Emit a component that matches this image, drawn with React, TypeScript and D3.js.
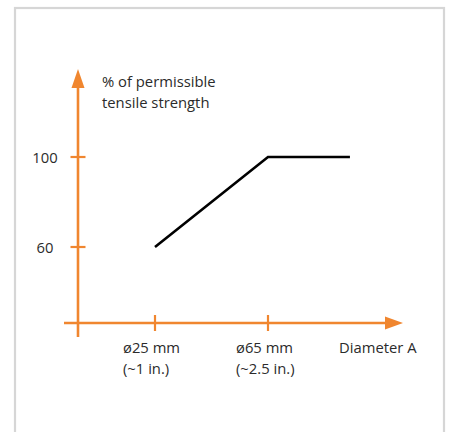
import React from "react";
import * as d3 from "d3";

const yTicks = [60, 100];
const xTickValues = [25, 65];
const xTickLabels = [
  ["ø25 mm", "(~1 in.)"],
  ["ø65 mm", "(~2.5 in.)"],
];
const lineX = [25, 65, 94];
const lineY = [60, 100, 100];
const yTitle = ["% of permissible", "tensile strength"];
const xTitle = "Diameter A";

const W = 453;
const H = 432;
const ORANGE = "#F0862F";
const TEXT = "#2b2b2b";
const FONT = "'Open Sans', 'Noto Sans', sans-serif";
const FS = 14.8;

export default function App() {
  const x = d3.scaleLinear().domain([25, 65]).range([155, 268]);
  const y = d3.scaleLinear().domain([60, 100]).range([247, 157]);
  const x0 = x.invert(78);
  const y0 = y.invert(323);
  const X0 = x(x0);
  const Y0 = y(y0);
  const xEnd = 403;
  const yTop = 69;
  const pts: [number, number][] = lineX.map((v, i) => [v, lineY[i]]);
  const line = d3
    .line<[number, number]>()
    .x((d) => x(d[0]))
    .y((d) => y(d[1]));

  return (
    <div style={{ position: "fixed", left: 0, top: 0 }}>
      <svg width={W} height={H} style={{ display: "block", fontFamily: FONT }}>
        <rect x={0} y={0} width={W} height={H} fill="#fff" />
        <rect x={15} y={8} width={429} height={440} fill="none" stroke="#d6d6d6" strokeWidth={2.2} />
        {/* y axis */}
        <line x1={X0} x2={X0} y1={337} y2={yTop + 15} stroke={ORANGE} strokeWidth={2.6} />
        <path d={`M${X0},${yTop} L${X0 + 6.5},${yTop + 19} L${X0 - 6.5},${yTop + 19} Z`} fill={ORANGE} />
        {/* x axis */}
        <line x1={64} x2={xEnd - 15} y1={Y0} y2={Y0} stroke={ORANGE} strokeWidth={2.6} />
        <path d={`M${xEnd},${Y0} L${xEnd - 18},${Y0 - 6.5} L${xEnd - 18},${Y0 + 6.5} Z`} fill={ORANGE} />
        {yTicks.map((t) => (
          <g key={t}>
            <line x1={X0 - 7.5} x2={X0 + 7.5} y1={y(t)} y2={y(t)} stroke={ORANGE} strokeWidth={2.2} />
            <text x={45} y={y(t) + 5.5} textAnchor="middle" fontSize={FS} fill={TEXT}>
              {t}
            </text>
          </g>
        ))}
        {xTickValues.map((t, i) => (
          <g key={t}>
            <line x1={x(t)} x2={x(t)} y1={Y0 - 8} y2={Y0 + 8} stroke={ORANGE} strokeWidth={2.2} />
            {xTickLabels[i].map((s, j) => (
              <text key={j} x={x(t) - 32} y={353 + j * 21} fontSize={FS} fill={TEXT}>
                {s}
              </text>
            ))}
          </g>
        ))}
        <text x={339} y={353} fontSize={FS} fill={TEXT}>
          {xTitle}
        </text>
        {yTitle.map((s, j) => (
          <text key={j} x={102} y={87 + j * 21} fontSize={FS} fill={TEXT}>
            {s}
          </text>
        ))}
        <path d={line(pts) || ""} fill="none" stroke="#000" strokeWidth={2.6} />
      </svg>
    </div>
  );
}
